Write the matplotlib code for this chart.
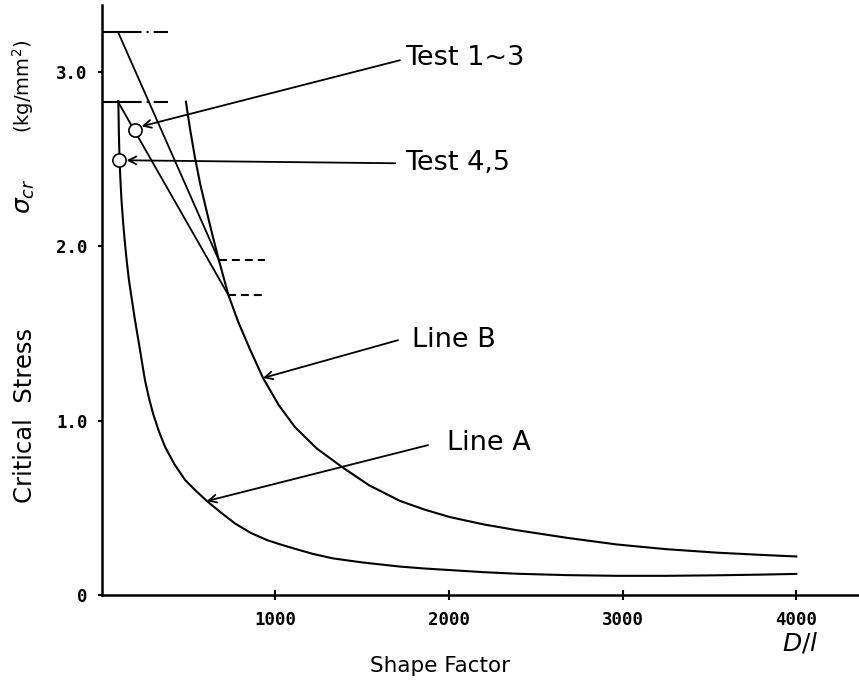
import matplotlib
matplotlib.use('Agg')
import matplotlib.pyplot as plt

# critical stress (kg/mm^2) against shape factor D/l
line_a_x = [97, 100, 104, 109, 115, 125, 136, 147, 158, 174, 190, 204, 219, 234, 250,
            272, 296, 330, 366, 420, 481, 540, 607, 685, 769, 860, 953, 1030, 1114,
            1220, 1333, 1500, 1718, 1860, 2006, 2200, 2390, 2680, 2966, 3250, 3541,
            3800, 4000]
line_a_y = [2.834, 2.65, 2.496, 2.38, 2.266, 2.13, 2.008, 1.90, 1.807, 1.70, 1.595,
            1.51, 1.423, 1.33, 1.234, 1.135, 1.044, 0.94, 0.850, 0.75, 0.660, 0.601,
            0.539, 0.475, 0.41, 0.356, 0.315, 0.29, 0.265, 0.235, 0.21, 0.187, 0.163,
            0.152, 0.143, 0.131, 0.122, 0.114, 0.110, 0.110, 0.113, 0.117, 0.121]
line_b_x = [486, 510, 538, 570, 607, 640, 676, 731, 786, 850, 930, 1020, 1114, 1240,
            1385, 1540, 1718, 1860, 2006, 2200, 2390, 2680, 2966, 3250, 3541, 3800, 4000]
line_b_y = [2.830, 2.672, 2.51, 2.35, 2.195, 2.06, 1.92, 1.72, 1.57, 1.42, 1.245,
            1.09, 0.963, 0.84, 0.734, 0.63, 0.54, 0.49, 0.447, 0.405, 0.372, 0.328,
            0.29, 0.263, 0.243, 0.230, 0.221]

# straight test lines and their limit levels
test_13_line_x = [95, 676]
test_13_line_y = [3.23, 1.92]
test_45_line_x = [95, 731]
test_45_line_y = [2.83, 1.72]
upper_levels = [3.23, 2.83]
upper_level_x = [0, 385]
lower_levels = [1.92, 1.72]
lower_level_x = [[676, 941], [731, 941]]

# test points
test_13_pt = (193, 2.667)
test_45_pt = (101, 2.496)

xticks = [1000, 2000, 3000, 4000]
yticks = [0, 1.0, 2.0, 3.0]
ytick_labels = ['0', '1.0', '2.0', '3.0']

W, H = 859, 688
fig = plt.figure(figsize=(W / 100, H / 100), dpi=100)
ax = fig.add_axes([101.5 / W, 93 / H, (W - 101.5) / W, 590 / H])
ax.set_xlim(0, (W - 101.5) / 0.1737)
ax.set_ylim(0, 590 / 174.3)

lw = 1.5
ax.plot(line_a_x, line_a_y, color='black', lw=lw)
ax.plot(line_b_x, line_b_y, color='black', lw=lw)
ax.plot(test_13_line_x, test_13_line_y, color='black', lw=1.3)
ax.plot(test_45_line_x, test_45_line_y, color='black', lw=1.3)

for lev in upper_levels:
    ax.plot(upper_level_x, [lev, lev], color='black', lw=1.5,
            linestyle=(0, (19, 2.4, 1, 2.4)))
for lev, xs in zip(lower_levels, lower_level_x):
    ax.plot(xs, [lev, lev], color='black', lw=1.5, linestyle=(0, (3.8, 2.4)))

for pt in (test_13_pt, test_45_pt):
    ax.plot(pt[0], pt[1], marker='o', ms=9.5, mfc='white', mec='black', mew=1.2,
            linestyle='none', zorder=5)

arrow = dict(arrowstyle='->,head_length=0.55,head_width=0.28', color='black', lw=1.3,
             shrinkA=0, shrinkB=0)
labels = [
    ('Test 1~3', (1747, 3.079), (1718, 3.068), (231, 2.689)),
    ('Test 4,5', (1747, 2.477), (1690, 2.477), (145, 2.494)),
    ('Line B', (1786, 1.462), (1707, 1.462), (930, 1.245)),
    ('Line A', (1987, 0.872), (1880, 0.860), (607, 0.539)),
]
for txt, tpos, tail, tip in labels:
    ax.annotate('', xy=tip, xytext=tail, arrowprops=arrow)
    ax.text(tpos[0], tpos[1], txt, fontsize=19.5, ha='left', va='center',
            family='DejaVu Sans')

for side in ('top', 'right'):
    ax.spines[side].set_visible(False)
for side in ('left', 'bottom'):
    ax.spines[side].set_linewidth(1.8)

ax.set_xticks(xticks)
ax.set_xticklabels([str(t) for t in xticks])
ax.set_yticks(yticks)
ax.set_yticklabels(ytick_labels)
ax.tick_params(axis='x', direction='inout', length=7, width=1.5, pad=8)
ax.tick_params(axis='y', direction='out', length=3, width=1.5, pad=7)
for lab in ax.get_xticklabels() + ax.get_yticklabels():
    lab.set_family('DejaVu Sans Mono')
    lab.set_fontweight('bold')
    lab.set_fontsize(12.5)

# axis titles
fig.text(440 / W, 1 - 666 / H, 'Shape Factor', fontsize=15.5, ha='center', va='center')
fig.text(800 / W, 1 - 643 / H, r'$D/l$', fontsize=18, ha='center', va='center')
fig.text(25 / W, 1 - 415 / H, 'Critical  Stress', fontsize=17.5, rotation=90,
         ha='center', va='center')
fig.text(25 / W, 1 - 196 / H, r'$\sigma_{cr}$', fontsize=18, rotation=90,
         ha='center', va='center')
fig.text(23 / W, 1 - 86 / H, '(kg/mm$^2$)', fontsize=14, rotation=90,
         ha='center', va='center')

fig.savefig('out.png', dpi=100)
